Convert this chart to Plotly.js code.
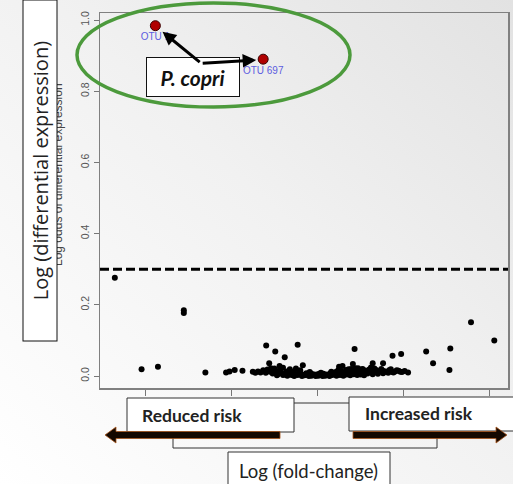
<!DOCTYPE html>
<html><head><meta charset="utf-8">
<script src="https://cdn.plot.ly/plotly-3.0.1.min.js"></script>
<style>html,body{margin:0;padding:0;background:#f2f2f2}</style>
</head><body><div id="chart" style="width:513px;height:484px"></div>
<script>
// ---- data ----
const effectX = [-2.35, -2.04, -1.85, -1.55, -1.55, -1.30, -1.06, -1.02, -0.96, -0.87,
  -0.595, -0.49, -0.38, -0.23, -0.56, -0.44, 0.43, 0.87, 0.97, 0.76, 0.64, 1.05,
  1.26, 1.34, 1.54, 1.53, 1.78, 2.05];
const effectY = [0.276, 0.019, 0.026, 0.177, 0.185, 0.010, 0.010, 0.013, 0.017, 0.015,
  0.086, 0.069, 0.053, 0.088, 0.036, 0.028, 0.076, 0.057, 0.062, 0.036, 0.036, 0.010,
  0.069, 0.036, 0.077, 0.017, 0.151, 0.100];
const clusterX = [-0.75,-0.72,-0.69,-0.66,-0.63,-0.60,-0.58,-0.55,-0.52,-0.50,-0.48,-0.46,-0.44,-0.42,-0.40,-0.38,-0.36,-0.34,-0.32,-0.30,
  -0.28,-0.26,-0.25,-0.23,-0.21,-0.19,-0.17,-0.15,-0.13,-0.11,-0.09,-0.07,-0.05,-0.03,-0.01,0.01,0.03,0.05,0.07,0.09,
  0.11,0.13,0.15,0.17,0.19,0.21,0.23,0.25,0.27,0.29,0.31,0.33,0.35,0.37,0.39,0.41,0.43,0.45,0.47,0.49,
  0.51,0.53,0.55,0.57,0.60,0.62,0.65,0.68,0.71,0.74,0.77,0.80,0.83,0.86,0.90,0.94,0.98,1.01,
  -0.47,-0.40,-0.35,-0.31,-0.27,-0.22,-0.18,-0.14,-0.10,-0.06,-0.02,0.02,0.06,0.10,0.14,0.18,0.22,0.26,0.30,0.34,
  0.38,0.42,0.46,0.50,0.54,0.58,0.64,0.70,0.76,0.82,0.88,0.92,0.96,
  -0.54,-0.45,-0.33,-0.20,-0.08,0.04,0.16,0.24,0.36,0.44,0.52,0.60,0.66,0.73,0.85];
const clusterY = [0.012,0.009,0.013,0.010,0.016,0.009,0.018,0.012,0.007,0.021,0.011,0.005,0.016,0.009,0.023,0.004,0.013,0.007,0.019,0.003,
  0.011,0.006,0.021,0.003,0.009,0.004,0.030,0.002,0.008,0.003,0.011,0.001,0.005,0.002,0.004,0.001,0.003,0.002,0.006,0.001,
  0.004,0.002,0.008,0.003,0.005,0.011,0.004,0.026,0.014,0.028,0.009,0.017,0.006,0.012,0.020,0.034,0.015,0.010,0.022,0.007,
  0.013,0.018,0.009,0.015,0.011,0.024,0.013,0.017,0.012,0.020,0.014,0.011,0.016,0.012,0.013,0.015,0.011,0.014,
  0.002,0.003,0.001,0.008,0.000,0.006,0.000,0.005,0.000,0.003,0.000,0.006,0.000,0.003,0.000,0.006,0.001,0.003,0.001,0.004,
  0.002,0.005,0.003,0.004,0.002,0.007,0.005,0.006,0.008,0.009,0.010,0.016,0.012,
  0.022,0.012,0.014,0.016,0.008,0.009,0.012,0.016,0.019,0.022,0.020,0.018,0.021,0.015,0.019];
const otuNames = ['OTU 1', 'OTU 697'];
const otuX = [-1.88, -0.63];
const otuY = [0.984, 0.89];
const threshold = 0.3;
const xTicks = [-2, -1, 0, 1, 2];
const yTicks = [0, 0.2, 0.4, 0.6, 0.8, 1.0];
const yTickText = ['0.0', '0.2', '0.4', '0.6', '0.8', '1.0'];

// ---- helpers for decoration placement (pixel -> paper) ----
const PL = 100, PT = 13, PW = 408, PH = 375;
const px = x => (x - PL) / PW;
const py = y => (PT + PH - y) / PH;
function pathPx(pts) {
  return 'M ' + pts.map(p => px(p[0]).toFixed(4) + ',' + py(p[1]).toFixed(4)).join(' L ') + ' Z';
}

const bgSvg = '<svg xmlns="http://www.w3.org/2000/svg" width="513" height="484"><defs>' +
  '<linearGradient id="g" x1="0" y1="1" x2="1" y2="0">' +
  '<stop offset="0" stop-color="#ffffff"/><stop offset="0.55" stop-color="#f1f1f1"/><stop offset="1" stop-color="#e2e2e2"/>' +
  '</linearGradient></defs><rect width="513" height="484" fill="url(#g)"/></svg>';

const traces = [
  { x: clusterX.concat(effectX), y: clusterY.concat(effectY), type: 'scatter', mode: 'markers',
    marker: { color: '#000', size: 6 }, hoverinfo: 'skip' },
  { x: otuX, y: otuY, type: 'scatter', mode: 'markers+text', text: otuNames,
    textposition: 'bottom center', textfont: { family: 'Liberation Sans', size: 10, color: '#5c5ce0' },
    marker: { color: '#b00000', size: 10, line: { color: '#3a0000', width: 1 } }, hoverinfo: 'skip' }
];

const lineCol = '#333';
const shapes = [
  { type: 'line', xref: 'paper', yref: 'y', x0: 0, x1: 1, y0: threshold, y1: threshold,
    line: { color: '#000', width: 3, dash: '9px,4px' } },
  { type: 'circle', xref: 'paper', yref: 'paper', x0: px(77), x1: px(350), y0: py(3), y1: py(107),
    line: { color: '#4c9a3c', width: 3.5 } },
  { type: 'line', xref: 'paper', yref: 'paper', x0: px(294), x1: px(349), y0: py(403), y1: py(403), line: { color: lineCol, width: 1 } },
  { type: 'path', xref: 'paper', yref: 'paper',
    path: 'M ' + px(173) + ',' + py(438) + ' L ' + px(173) + ',' + py(448) + ' L ' + px(437) + ',' + py(448) + ' L ' + px(437) + ',' + py(438),
    line: { color: lineCol, width: 1 } },
  { type: 'rect', xref: 'paper', yref: 'paper', x0: px(127), x1: px(294), y0: py(398), y1: py(432),
    fillcolor: '#fff', line: { color: lineCol, width: 1 } },
  { type: 'rect', xref: 'paper', yref: 'paper', x0: px(349), x1: px(530), y0: py(397), y1: py(431),
    fillcolor: '#fff', line: { color: lineCol, width: 1 } },
  { type: 'rect', xref: 'paper', yref: 'paper', x0: px(228), x1: px(390), y0: py(452), y1: py(490),
    fillcolor: '#fff', line: { color: lineCol, width: 1 } },
  { type: 'path', xref: 'paper', yref: 'paper',
    path: pathPx([[280, 431.5], [116, 431.5], [116, 427], [105, 435], [116, 443], [116, 438.5], [280, 438.5]]),
    fillcolor: '#140800', line: { color: '#a8551c', width: 0.8 } },
  { type: 'path', xref: 'paper', yref: 'paper',
    path: pathPx([[353, 431.5], [496, 431.5], [496, 427], [507, 435], [496, 443], [496, 438.5], [353, 438.5]]),
    fillcolor: '#140800', line: { color: '#a8551c', width: 0.8 } }
];

const slideFont = 'Lato, "Open Sans", sans-serif';
const annotations = [
  { xref: 'paper', yref: 'paper', x: px(58), y: py(175), text: 'Log odds of differential expression',
    textangle: -90, showarrow: false, xanchor: 'center', yanchor: 'middle',
    font: { family: 'Liberation Sans', size: 12, color: '#444' } },
  { xref: 'paper', yref: 'paper', x: px(39.5), y: py(171), text: 'Log (differential expression)',
    textangle: -90, showarrow: false, xanchor: 'center', yanchor: 'middle', width: 340, height: 33,
    bgcolor: '#fff', bordercolor: '#111', borderwidth: 1, borderpad: 0,
    font: { family: '"Open Sans", sans-serif', size: 20, color: '#222' } },
  { xref: 'paper', yref: 'paper', x: px(193), y: py(77), text: '<b><i>P. copri</i></b>',
    showarrow: false, xanchor: 'center', yanchor: 'middle', width: 92, height: 38,
    bgcolor: '#fff', bordercolor: '#111', borderwidth: 1, borderpad: 0,
    font: { family: slideFont, size: 21, color: '#111' } },
  { xref: 'x', yref: 'y', x: -1.797, y: 0.967, ax: 38.7, ay: 31.6, axref: 'pixel', ayref: 'pixel',
    text: '', showarrow: true, arrowhead: 2, arrowsize: 0.9, arrowwidth: 3, arrowcolor: '#000' },
  { xref: 'x', yref: 'y', x: -0.711, y: 0.8876, ax: -55, ay: 3.3, axref: 'pixel', ayref: 'pixel',
    text: '', showarrow: true, arrowhead: 2, arrowsize: 0.9, arrowwidth: 3, arrowcolor: '#000' },
  { xref: 'paper', yref: 'paper', x: px(140), y: py(415), text: '<b>Reduced risk</b>',
    showarrow: false, xanchor: 'left', yanchor: 'middle', font: { family: slideFont, size: 17.5, color: '#222' } },
  { xref: 'paper', yref: 'paper', x: px(363), y: py(413), text: '<b>Increased risk</b>',
    showarrow: false, xanchor: 'left', yanchor: 'middle', font: { family: slideFont, size: 17.5, color: '#222' } },
  { xref: 'paper', yref: 'paper', x: px(308), y: py(471), text: 'Log (fold-change)',
    showarrow: false, xanchor: 'center', yanchor: 'middle', font: { family: slideFont, size: 18.5, color: '#222' } }
];

const layout = {
  width: 513, height: 484,
  margin: { l: 100, r: 5, t: 13, b: 96, pad: 0 },
  paper_bgcolor: '#f2f2f2', plot_bgcolor: 'rgba(0,0,0,0)',
  showlegend: false,
  xaxis: { range: [-2.522, 2.209], tickvals: xTicks, showticklabels: false, ticks: 'outside', ticklen: 6,
    tickcolor: '#777', showline: true, mirror: true, linecolor: '#808080', linewidth: 1.5,
    showgrid: false, zeroline: false, fixedrange: true },
  yaxis: { range: [-0.0337, 1.0197], tickvals: yTicks, ticktext: yTickText, tickangle: -90, ticks: 'outside',
    ticklen: 5, tickcolor: '#777', tickfont: { family: 'Liberation Sans', size: 10.5, color: '#555' },
    showline: true, mirror: true, linecolor: '#808080', linewidth: 1.5,
    showgrid: false, zeroline: false, fixedrange: true },
  images: [{ source: 'data:image/svg+xml;charset=utf-8,' + encodeURIComponent(bgSvg),
    xref: 'paper', yref: 'paper', x: px(0), y: py(0), sizex: 513 / PW, sizey: 484 / PH,
    xanchor: 'left', yanchor: 'top', sizing: 'stretch', layer: 'below' }],
  shapes: shapes,
  annotations: annotations
};

Plotly.newPlot('chart', traces, layout, { displayModeBar: false, staticPlot: true });
</script></body></html>
